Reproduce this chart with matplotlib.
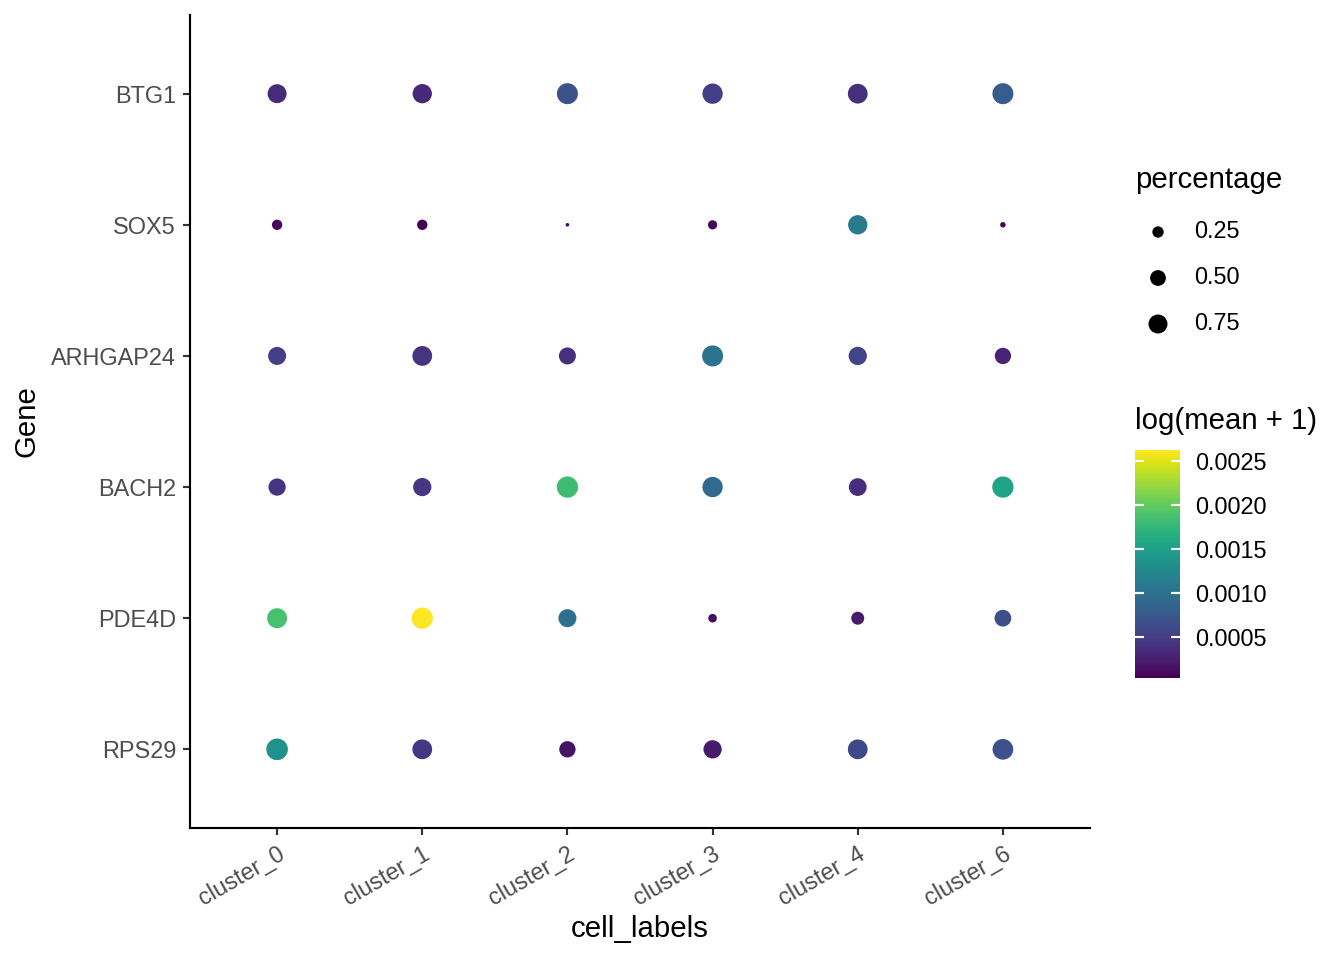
import matplotlib
matplotlib.use("Agg")
import matplotlib.pyplot as plt
import numpy as np

plt.rcParams['font.family'] = ['Liberation Sans', 'DejaVu Sans']

# data (rows bottom -> top as drawn)
clusters = ["cluster_0", "cluster_1", "cluster_2", "cluster_3", "cluster_4", "cluster_6"]
genes = ["RPS29", "PDE4D", "BACH2", "ARHGAP24", "SOX5", "BTG1"]

pct_RPS29 = [1.00, 0.82, 0.54, 0.69, 0.82, 0.91]
pct_PDE4D = [0.84, 0.97, 0.67, 0.15, 0.33, 0.57]
pct_BACH2 = [0.61, 0.69, 0.97, 0.87, 0.65, 0.97]
pct_ARHGAP24 = [0.67, 0.82, 0.59, 0.94, 0.69, 0.54]
pct_SOX5 = [0.21, 0.21, 0.08, 0.17, 0.78, 0.09]
pct_BTG1 = [0.75, 0.78, 0.94, 0.87, 0.82, 0.94]

mean_RPS29 = [0.00133, 0.000446, 0.00016, 0.000212, 0.000602, 0.00068]
mean_PDE4D = [0.001876, 0.00263, 0.000992, 0.000082, 0.000212, 0.000654]
mean_BACH2 = [0.00042, 0.000446, 0.001824, 0.000914, 0.000368, 0.001538]
mean_ARHGAP24 = [0.000498, 0.00042, 0.000394, 0.001018, 0.00055, 0.00029]
mean_SOX5 = [0.000082, 0.00003, 0.000056, 0.000082, 0.001096, 0.000069]
mean_BTG1 = [0.000342, 0.000316, 0.00068, 0.000498, 0.000394, 0.000784]

legend_pcts = [0.25, 0.50, 0.75]
cbar_ticks = [0.0005, 0.0010, 0.0015, 0.0020, 0.0025]

pct = np.array([pct_RPS29, pct_PDE4D, pct_BACH2, pct_ARHGAP24, pct_SOX5, pct_BTG1])
mean = np.array([mean_RPS29, mean_PDE4D, mean_BACH2, mean_ARHGAP24, mean_SOX5, mean_BTG1])

DPI = 192
pmin, pmax = pct.min(), pct.max()


def size_of(p):
    # ggplot-like area scale, range 1..6 of a base diameter
    d_px = 3.6 * (1 + 5 * np.sqrt((np.asarray(p) - pmin) / (pmax - pmin)))
    return (d_px * 72 / DPI) ** 2


fig = plt.figure(figsize=(1344 / DPI, 960 / DPI), dpi=DPI)
ax = fig.add_axes([190 / 1344, 1 - 828 / 960, 900 / 1344, 813 / 960])

xx, yy = np.meshgrid(np.arange(len(clusters)), np.arange(len(genes)))
sc = ax.scatter(xx.ravel(), yy.ravel(), s=size_of(pct.ravel()), c=mean.ravel(),
                cmap='viridis', vmin=mean.min(), vmax=mean.max(), linewidths=0)

ax.set_xlim(-0.6, len(clusters) - 0.4)
ax.set_ylim(-0.6, len(genes) - 0.4)
ax.set_xticks(range(len(clusters)))
ax.set_xticklabels(clusters, rotation=30, ha='right', va='top', rotation_mode='anchor')
ax.set_yticks(range(len(genes)))
ax.set_yticklabels(genes)
ax.tick_params(length=2.75, width=0.8, color='#333333', labelcolor='#4d4d4d',
               labelsize=8.8, pad=2.5)
for side in ['top', 'right']:
    ax.spines[side].set_visible(False)
for side in ['left', 'bottom']:
    ax.spines[side].set_linewidth(0.8)
ax.set_xlabel('cell_labels', fontsize=11, labelpad=2)
ax.set_ylabel('Gene', fontsize=11, labelpad=4)

# size legend
fig.text(1135 / 1344, 1 - 180 / 960, 'percentage', fontsize=11, va='center', ha='left')
lax = fig.add_axes([1135 / 1344, 1 - 347 / 960, 46 / 1344, 138 / 960])
lax.set_xlim(0, 1)
lax.set_ylim(0, 3)
lax.axis('off')
ly = [2.5, 1.5, 0.5]
lax.scatter([0.5] * len(legend_pcts), ly, s=size_of(legend_pcts), c='black', linewidths=0)
for y, p in zip(ly, legend_pcts):
    lax.text(1.28, y, f'{p:.2f}', fontsize=8.8, va='center', ha='left',
             transform=lax.transData)

# colour bar
fig.text(1135 / 1344, 1 - 421 / 960, 'log(mean + 1)', fontsize=11, va='center', ha='left')
cax = fig.add_axes([1135 / 1344, 1 - 678 / 960, 45 / 1344, 228 / 960])
cb = fig.colorbar(sc, cax=cax)
cb.outline.set_visible(False)
cb.set_ticks(cbar_ticks)
cb.set_ticklabels([f'{t:.4f}' for t in cbar_ticks])
cax.tick_params(left=True, right=True, labelleft=False, labelright=True,
                direction='in', length=3.4, width=0.8, color='white',
                labelsize=8.8, pad=5.5)

fig.savefig('out.png', dpi=DPI, facecolor='white')
